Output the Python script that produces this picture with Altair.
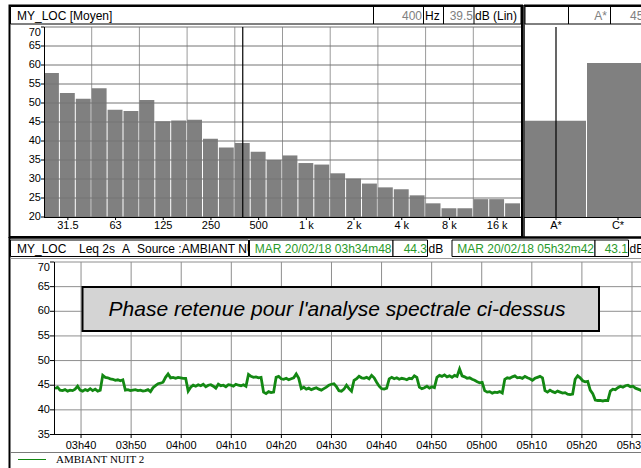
import altair as alt
import pandas as pd

# ------------------------------------------------------------------ data
# 1/3-octave spectrum, averaged over the selected phase (dB Lin)
BANDS = ["25", "31.5", "40", "50", "63", "80", "100", "125", "160", "200",
         "250", "315", "400", "500", "630", "800", "1 k", "1.25 k", "1.6 k", "2 k",
         "2.5 k", "3.15 k", "4 k", "5 k", "6.3 k", "8 k", "10 k", "12.5 k", "16 k", "20 k"]
LEVELS = [57.9, 52.6, 51.1, 53.9, 48.2, 47.9, 50.8, 45.2, 45.4, 45.6,
          40.6, 38.3, 39.5, 37.2, 35.0, 36.2, 34.2, 33.8, 31.5, 30.1,
          28.8, 27.8, 27.3, 25.7, 23.6, 22.3, 22.3, 24.7, 24.7, 23.6]
BAND_LABELS = ["31.5", "63", "125", "250", "500", "1 k", "2 k", "4 k", "8 k", "16 k"]
OCTAVE_EDGES = ["50", "100", "200", "400", "800", "1.6 k", "3.15 k", "6.3 k", "12.5 k"]
CURSOR_BAND = "400"
SPEC_DB_TICKS = [20, 25, 30, 35, 40, 45, 50, 55, 60, 65, 70]

# overall weighted levels
WEIGHTINGS = ["A*", "C*"]
WEIGHTED_LEVELS = [45.3, 60.5]

# time history (Leq, dB A)
STATION = "MY_LOC"
SOURCE = "AMBIANT NUIT 2"
DATE_LABEL = "MAR 20/02/18"
START = "03:34:48"
END = "05:32:42"
LEQ = [
    44.3, 44.6, 44.0, 43.9, 44.1, 43.8, 44.0, 43.9, 44.2, 44.8,
    44.0, 43.8, 44.1, 43.9, 44.3, 43.9, 44.2, 43.8, 44.0,
    47.0, 46.6, 46.5, 46.3, 46.2, 46.0, 46.1, 45.9, 46.1,
    44.0, 44.1, 43.9, 44.0, 44.1, 43.9, 44.0, 43.8, 43.9, 44.1, 43.7,
    44.5, 44.9, 45.3, 45.4, 45.6,
    46.6, 47.3, 46.5, 46.6, 46.4, 46.6, 46.5, 46.4, 46.4,
    43.8, 44.6,
    45.0, 44.8, 45.1, 44.9, 45.2, 44.7, 45.0, 45.1, 44.8, 44.4,
    45.2, 44.9, 45.0, 44.7, 45.1, 45.0, 44.8, 45.2, 45.0, 44.9, 45.1, 44.8,
    47.2, 46.8, 46.6, 46.7, 46.5, 46.6,
    43.6, 43.3, 43.7, 43.5, 43.6,
    46.6, 46.8, 46.3, 46.2, 46.4, 46.1, 46.3, 46.5, 47.3, 46.4,
    44.3, 44.6, 44.2, 44.4, 44.1, 44.3, 44.5, 44.2, 44.0, 44.3,
    44.6, 45.0, 45.2, 45.3, 44.7, 43.9, 43.8, 44.2, 45.0, 44.3, 43.8,
    46.0, 46.3, 46.8, 46.5, 46.4, 46.6, 46.3, 47.0, 46.5,
    45.6, 44.8, 44.3, 44.2, 44.4,
    46.3, 46.6, 46.3, 46.5, 46.2, 46.4, 46.3, 46.1, 46.4, 46.3, 46.9, 46.6,
    44.6, 44.3, 44.5, 44.8, 44.4, 44.7, 44.5,
    46.6, 47.0, 46.8, 47.1, 46.7, 46.9, 46.6, 47.0, 46.8, 48.3,
    46.9, 46.7, 46.4, 46.5, 46.2, 46.0, 45.7,
    45.5, 45.6,
    43.9, 43.6, 43.7, 43.4, 43.6, 43.5, 43.7, 43.4,
    46.2, 46.5, 46.4, 46.7, 46.9, 46.5, 46.6, 46.4, 46.8, 46.5,
    46.3, 46.0, 46.4, 46.6, 46.8, 46.5,
    43.9, 43.6, 44.0, 43.7, 43.5, 43.8, 43.6, 43.4, 43.5, 43.2, 43.1, 43.2,
    46.2, 46.9, 46.5, 45.9, 45.7, 45.8,
    44.0, 43.3, 42.0, 41.9, 41.9, 41.8, 41.9, 41.9,
    43.8, 44.2, 44.1, 44.5, 44.8, 44.6, 44.9, 45.0, 44.7, 44.8,
    44.4, 44.2, 44.0, 43.6, 43.1,
]
TIME_TICKS = ["03h40", "03h50", "04h00", "04h10", "04h20", "04h30",
              "04h40", "04h50", "05h00", "05h10", "05h20", "05h30"]
LEQ_DB_TICKS = [35, 40, 45, 50, 55, 60, 65, 70]
NOTE = "Phase retenue pour l'analyse spectrale ci-dessus"

# ------------------------------------------------------------------ styles
FONT = "Liberation Sans"
BAR_GREY = "#808080"
TEXT_GREY = "#808080"
GREEN = "#138813"
GREEN_TEXT = "#2a9a2a"
GRID_H = "#747474"
GRID_V = "#9a9a9a"
GRID_T = "#8e8e8e"

# ------------------------------------------------------------------ tables
def to_minutes(hms):
    h, m, s = (int(v) for v in hms.split(":"))
    return h * 60 + m + s / 60.0


spec = pd.DataFrame({"band": BANDS, "level": LEVELS})
spec["i"] = range(len(BANDS))
spec["i2"] = spec["i"] + 1

spec_lbl = pd.DataFrame({"label": BAND_LABELS,
                         "pos": [BANDS.index(b) + 0.5 for b in BAND_LABELS]})
spec_edges = pd.DataFrame({"pos": [BANDS.index(b) for b in OCTAVE_EDGES]})
spec_db = pd.DataFrame({"db": SPEC_DB_TICKS})
cursor_df = pd.DataFrame({"pos": [BANDS.index(CURSOR_BAND) + 0.5]})
cursor_level = LEVELS[BANDS.index(CURSOR_BAND)]

weighted = pd.DataFrame({"w": WEIGHTINGS, "level": WEIGHTED_LEVELS})
weighted["i"] = range(len(WEIGHTINGS))
weighted["i2"] = weighted["i"] + 1
weighted["c"] = weighted["i"] + 0.5

t0, t1 = to_minutes(START), to_minutes(END)
n = len(LEQ)
hist = pd.DataFrame({"t": [t0 + (t1 - t0) * k / (n - 1) for k in range(n)], "leq": LEQ})
time_ticks = pd.DataFrame({"label": TIME_TICKS,
                           "t": [int(s[:2]) * 60 + int(s[3:5]) for s in TIME_TICKS]})
leq_db = pd.DataFrame({"db": LEQ_DB_TICKS})

# ------------------------------------------------------------------ scales
SX = alt.Scale(domain=[0, len(BANDS)], range=[44, 521])
SY = alt.Scale(domain=[20, 70], range=[217, 27])
WX = alt.Scale(domain=[0, 2], range=[525, 649])
TX = alt.Scale(domain=[214.6, 331.8], range=[54, 641])
TY = alt.Scale(domain=[35, 70], range=[434.5, 262])

ONE = pd.DataFrame({"k": [0]})


def box(x, y, x2, y2, fill="white", stroke="black", sw=1.0, filled=True):
    kw = dict(stroke=stroke, strokeWidth=sw)
    if filled:
        kw["fill"] = fill
    else:
        kw["fillOpacity"] = 0
    return alt.Chart(ONE).mark_rect(**kw).encode(
        x=alt.value(x), x2=alt.value(x2), y=alt.value(y), y2=alt.value(y2))


def hline(x, x2, y, color="black", sw=1.0):
    return alt.Chart(ONE).mark_rule(color=color, strokeWidth=sw).encode(
        x=alt.value(x), x2=alt.value(x2), y=alt.value(y))


def vline(x, y, y2, color="black", sw=1.0):
    return alt.Chart(ONE).mark_rule(color=color, strokeWidth=sw).encode(
        x=alt.value(x), y=alt.value(y), y2=alt.value(y2))


def label(text, x, y, color="black", align="left", size=12, font=FONT, style="normal"):
    return alt.Chart(ONE).mark_text(text=text, align=align, baseline="middle", color=color,
                                    fontSize=size, font=font, fontStyle=style).encode(
        x=alt.value(x), y=alt.value(y))


layers = []

# ------------------------------------------------------------------ spectrum panel
layers.append(alt.Chart(spec_edges).mark_rule(color=GRID_V, strokeWidth=1).encode(
    x=alt.X("pos:Q", scale=SX, axis=None), y=alt.value(27), y2=alt.value(217)))
layers.append(alt.Chart(spec).mark_rect(color=BAR_GREY, x2Offset=-1).encode(
    x=alt.X("i:Q", scale=SX, axis=None), x2="i2:Q",
    y=alt.Y("level:Q", scale=SY, axis=None), y2=alt.datum(20),
    tooltip=["band", "level"]))
layers.append(alt.Chart(spec_db).mark_rule(color=GRID_H, strokeWidth=1).encode(
    y=alt.Y("db:Q", scale=SY, axis=None), x=alt.value(44), x2=alt.value(521)))
layers.append(alt.Chart(cursor_df).mark_rule(color="black", strokeWidth=1.2).encode(
    x=alt.X("pos:Q", scale=SX, axis=None), y=alt.value(27), y2=alt.value(217)))
layers.append(vline(44.5, 27, 218))
layers.append(hline(44, 521, 217.5))
layers.append(alt.Chart(spec_db).mark_rule(color="black").encode(
    y=alt.Y("db:Q", scale=SY, axis=None), x=alt.value(41), x2=alt.value(44)))
layers.append(alt.Chart(spec_db[spec_db.db < max(SPEC_DB_TICKS)]).mark_text(
    align="right", baseline="middle", fontSize=11, font=FONT, color="black").encode(
    y=alt.Y("db:Q", scale=SY, axis=None), x=alt.value(41), text="db:Q"))
layers.append(alt.Chart(spec_db[spec_db.db == max(SPEC_DB_TICKS)]).mark_text(
    align="right", baseline="top", fontSize=11, font=FONT, color="black").encode(
    y=alt.Y("db:Q", scale=SY, axis=None), x=alt.value(41), text="db:Q"))
layers.append(alt.Chart(spec_lbl).mark_rule(color="black").encode(
    x=alt.X("pos:Q", scale=SX, axis=None), y=alt.value(217), y2=alt.value(220)))
layers.append(alt.Chart(spec_lbl).mark_text(
    baseline="middle", fontSize=11, font=FONT, color="black").encode(
    x=alt.X("pos:Q", scale=SX, axis=None), y=alt.value(226), text="label:N"))

# ------------------------------------------------------------------ weighted levels panel
layers.append(alt.Chart(weighted).mark_rect(color=BAR_GREY, x2Offset=-1).encode(
    x=alt.X("i:Q", scale=WX, axis=None), x2="i2:Q",
    y=alt.Y("level:Q", scale=SY, axis=None), y2=alt.datum(20),
    tooltip=["w", "level"]))
layers.append(alt.Chart(weighted.iloc[:1]).mark_rule(color="black", strokeWidth=1.2).encode(
    x=alt.X("c:Q", scale=WX, axis=None), y=alt.value(27), y2=alt.value(217)))
layers.append(hline(524, 641, 217.5))
layers.append(alt.Chart(weighted).mark_rule(color="black").encode(
    x=alt.X("c:Q", scale=WX, axis=None), y=alt.value(217), y2=alt.value(220)))
layers.append(alt.Chart(weighted).mark_text(
    baseline="middle", fontSize=11, font=FONT, color="black").encode(
    x=alt.X("c:Q", scale=WX, axis=None), y=alt.value(226), text="w:N"))

# ------------------------------------------------------------------ top frames and headers
layers.append(box(9.5, 5.5, 522, 237, filled=False, sw=2))
layers.append(box(10.5, 6.5, 521, 24, sw=1))
layers.append(vline(373.5, 6.5, 24))
layers.append(vline(423.5, 6.5, 24))
layers.append(vline(443.5, 6.5, 24))
layers.append(vline(474, 6.5, 24))
layers.append(label(f"{STATION} [Moyen]", 17, 15.5))
layers.append(label(CURSOR_BAND, 422, 15.5, color=TEXT_GREY, align="right"))
layers.append(label("Hz", 425, 15.5))
layers.append(label(f"{cursor_level:.1f}", 473, 15.5, color=TEXT_GREY, align="right"))
layers.append(label("dB (Lin)", 475, 15.5))
layers.append(vline(524, 5, 237, sw=1.5))
layers.append(hline(524, 641, 5.5, sw=2))
layers.append(box(525, 6.5, 645, 24, sw=1))
layers.append(vline(568.5, 6.5, 24))
layers.append(vline(610.5, 6.5, 24))
layers.append(label(WEIGHTINGS[0], 607, 15.5, color=TEXT_GREY, align="right"))
layers.append(label(f"{WEIGHTED_LEVELS[0]:.1f}", 630, 15.5, color=TEXT_GREY))

# ------------------------------------------------------------------ time history panel
layers.append(alt.Chart(time_ticks).mark_rule(color=GRID_T, strokeWidth=1).encode(
    x=alt.X("t:Q", scale=TX, axis=None), y=alt.value(262), y2=alt.value(434.5)))
layers.append(alt.Chart(leq_db).mark_rule(color=GRID_T, strokeWidth=1).encode(
    y=alt.Y("db:Q", scale=TY, axis=None), x=alt.value(54), x2=alt.value(641)))
layers.append(box(82.5, 287, 599, 331, fill="#d4d4d4", sw=2))
layers.append(label(NOTE, 337, 309.5, size=21, style="italic", align="center"))
layers.append(alt.Chart(hist).mark_line(color=GREEN, strokeWidth=2.8).encode(
    x=alt.X("t:Q", scale=TX, axis=None), y=alt.Y("leq:Q", scale=TY, axis=None)))
layers.append(vline(54.5, 262, 435))
layers.append(hline(54, 641, 434.5))
layers.append(alt.Chart(leq_db).mark_rule(color="black").encode(
    y=alt.Y("db:Q", scale=TY, axis=None), x=alt.value(50), x2=alt.value(54)))
layers.append(alt.Chart(leq_db[leq_db.db < max(LEQ_DB_TICKS)]).mark_text(
    align="right", baseline="middle", fontSize=11, font=FONT, color="black").encode(
    y=alt.Y("db:Q", scale=TY, axis=None), x=alt.value(50), text="db:Q"))
layers.append(alt.Chart(leq_db[leq_db.db == max(LEQ_DB_TICKS)]).mark_text(
    align="right", baseline="top", fontSize=11, font=FONT, color="black").encode(
    y=alt.Y("db:Q", scale=TY, axis=None), x=alt.value(50), text="db:Q"))
layers.append(alt.Chart(time_ticks).mark_rule(color="black").encode(
    x=alt.X("t:Q", scale=TX, axis=None), y=alt.value(434.5), y2=alt.value(438)))
layers.append(alt.Chart(time_ticks).mark_text(
    baseline="middle", fontSize=11, font=FONT, color="black").encode(
    x=alt.X("t:Q", scale=TX, axis=None), y=alt.value(446), text="label:N"))

# ------------------------------------------------------------------ lower header and legend
layers.append(hline(9, 641, 237.5, sw=2.5))
layers.append(vline(9.5, 237, 468, sw=2))
layers.append(label(STATION, 17, 248.5))
layers.append(label("Leq 2s", 79, 248.5))
layers.append(label("A", 122, 248.5))
layers.append(label(f"Source :{SOURCE}", 137, 248.5))
layers.append(box(10.5, 240, 248.5, 256.5, filled=False))
layers.append(box(249.5, 240, 393, 256.5, sw=1))
layers.append(label(f"{DATE_LABEL} {START.replace(':', 'h', 1).replace(':', 'm')}",
                    391.5, 248.5, color=GREEN_TEXT, align="right"))
layers.append(box(393, 240, 427.5, 256.5, sw=1))
layers.append(label(f"{LEQ[0]:.1f}", 427, 248.5, color=GREEN_TEXT, align="right"))
layers.append(label("dB", 428.5, 248.5))
layers.append(box(452, 240, 595, 256.5, sw=1))
layers.append(label(f"{DATE_LABEL} {END.replace(':', 'h', 1).replace(':', 'm')}",
                    594, 248.5, color=GREEN_TEXT, align="right"))
layers.append(box(595, 240, 628.5, 256.5, sw=1))
layers.append(label(f"{LEQ[-1]:.1f}", 628, 248.5, color=GREEN_TEXT, align="right"))
layers.append(label("dB", 629.5, 248.5))
layers.append(hline(10, 641, 258.5, color="#9a9a9a"))
layers.append(hline(10, 641, 452.5, color="#7a7a7a"))
layers.append(hline(18, 46, 459.5, color=GREEN))
layers.append(label(SOURCE, 56, 460, size=11, font="Liberation Serif"))

chart = alt.layer(*layers).resolve_scale(
    x="independent", y="independent"
).properties(
    width=641, height=468, padding=0, background="white",
    autosize=alt.AutoSizeParams(type="none"),
).configure_view(strokeWidth=0)

chart.save("out.html", embed_options={"renderer": "svg", "actions": False})
